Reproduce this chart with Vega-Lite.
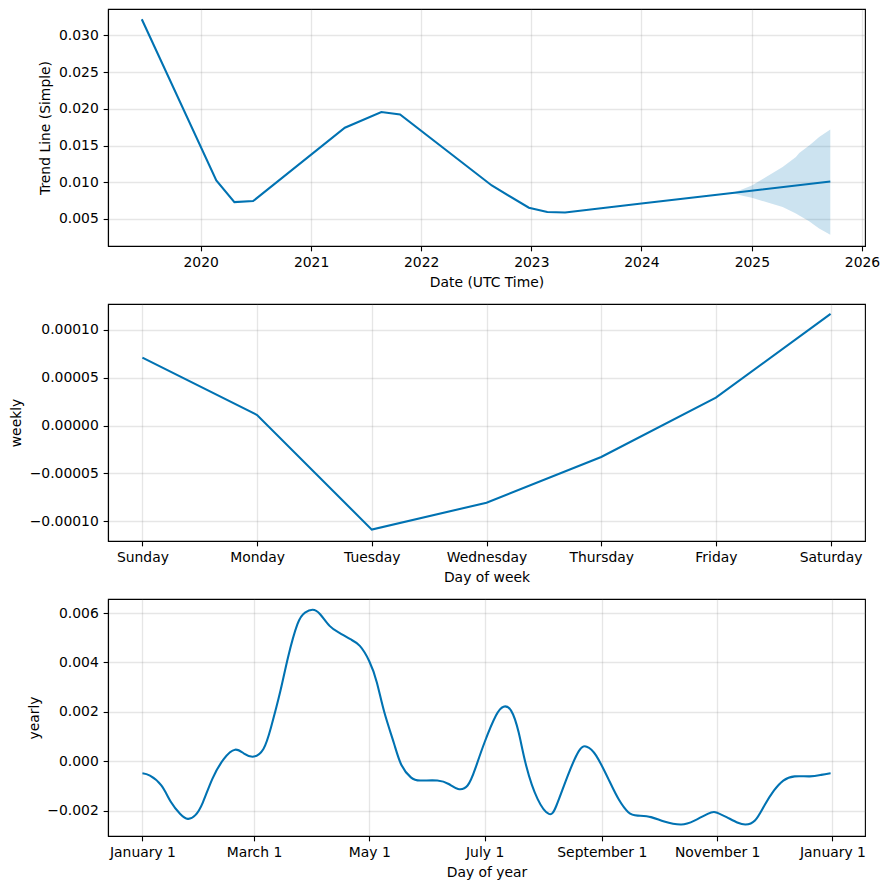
{
  "$schema": "https://vega.github.io/schema/vega-lite/v6.json",
  "padding": {"left": 9, "top": 8, "right": 5, "bottom": 5},
  "bounds": "flush",
  "spacing": 58,
  "datasets": {
    "trend": [
      {"ds": "2019-06-20T00:00", "trend": 0.0322},
      {"ds": "2020-02-22T00:00", "trend": 0.01025},
      {"ds": "2020-04-22T00:00", "trend": 0.0073},
      {"ds": "2020-06-23T00:00", "trend": 0.00744},
      {"ds": "2021-04-23T00:00", "trend": 0.01743},
      {"ds": "2021-08-22T00:00", "trend": 0.01956},
      {"ds": "2021-10-23T00:00", "trend": 0.01924},
      {"ds": "2022-08-23T00:00", "trend": 0.00956},
      {"ds": "2022-12-24T00:00", "trend": 0.00653},
      {"ds": "2023-02-23T00:00", "trend": 0.00594},
      {"ds": "2023-04-23T00:00", "trend": 0.00589},
      {"ds": "2024-01-01T00:00", "trend": 0.00711},
      {"ds": "2024-10-28T00:00", "trend": 0.00853},
      {"ds": "2025-09-18T00:00", "trend": 0.01011}
    ],
    "band": [
      {"ds": "2024-10-28T00:00", "lower": 0.00853, "upper": 0.00853},
      {"ds": "2024-12-01T00:00", "lower": 0.00816, "upper": 0.00905},
      {"ds": "2025-01-01T00:00", "lower": 0.00789, "upper": 0.00956},
      {"ds": "2025-02-17T00:00", "lower": 0.0073, "upper": 0.01071},
      {"ds": "2025-04-13T00:00", "lower": 0.00662, "upper": 0.01207},
      {"ds": "2025-05-27T00:00", "lower": 0.00575, "upper": 0.01343},
      {"ds": "2025-06-07T00:00", "lower": 0.00548, "upper": 0.0140},
      {"ds": "2025-07-10T00:00", "lower": 0.0047, "upper": 0.0150},
      {"ds": "2025-07-21T00:00", "lower": 0.00435, "upper": 0.0154},
      {"ds": "2025-08-12T00:00", "lower": 0.0037, "upper": 0.01616},
      {"ds": "2025-09-18T00:00", "lower": 0.00285, "upper": 0.0172}
    ],
    "weekly": [
      {"day": "Sunday", "weekly": 0.000071},
      {"day": "Monday", "weekly": 0.000011},
      {"day": "Tuesday", "weekly": -0.000109},
      {"day": "Wednesday", "weekly": -0.0000808},
      {"day": "Thursday", "weekly": -0.000033},
      {"day": "Friday", "weekly": 0.0000291},
      {"day": "Saturday", "weekly": 0.0001168}
    ],
    "yearly": [
      {"ds": "2017-01-01T00:00", "yearly": -0.000485},
      {"ds": "2017-01-05T00:00", "yearly": -0.00058},
      {"ds": "2017-01-11T00:00", "yearly": -0.00098},
      {"ds": "2017-01-16T00:00", "yearly": -0.00164},
      {"ds": "2017-01-21T00:00", "yearly": -0.00213},
      {"ds": "2017-01-25T00:00", "yearly": -0.00233},
      {"ds": "2017-01-29T00:00", "yearly": -0.00218},
      {"ds": "2017-02-02T00:00", "yearly": -0.00166},
      {"ds": "2017-02-07T00:00", "yearly": -0.00071},
      {"ds": "2017-02-13T00:00", "yearly": 0.00009},
      {"ds": "2017-02-19T00:00", "yearly": 0.00047},
      {"ds": "2017-02-24T00:00", "yearly": 0.0003},
      {"ds": "2017-03-01T00:00", "yearly": 0.00019},
      {"ds": "2017-03-06T00:00", "yearly": 0.0005},
      {"ds": "2017-03-10T00:00", "yearly": 0.00137},
      {"ds": "2017-03-15T00:00", "yearly": 0.00285},
      {"ds": "2017-03-19T00:00", "yearly": 0.0042},
      {"ds": "2017-03-24T00:00", "yearly": 0.00555},
      {"ds": "2017-03-28T00:00", "yearly": 0.00602},
      {"ds": "2017-04-01T00:00", "yearly": 0.00613},
      {"ds": "2017-04-05T00:00", "yearly": 0.00595},
      {"ds": "2017-04-10T00:00", "yearly": 0.00548},
      {"ds": "2017-04-15T00:00", "yearly": 0.00521},
      {"ds": "2017-04-21T00:00", "yearly": 0.00494},
      {"ds": "2017-04-26T00:00", "yearly": 0.00467},
      {"ds": "2017-05-01T00:00", "yearly": 0.00405},
      {"ds": "2017-05-05T00:00", "yearly": 0.00319},
      {"ds": "2017-05-09T00:00", "yearly": 0.00197},
      {"ds": "2017-05-14T00:00", "yearly": 0.00074},
      {"ds": "2017-05-18T00:00", "yearly": -0.00015},
      {"ds": "2017-05-23T00:00", "yearly": -0.00065},
      {"ds": "2017-05-28T00:00", "yearly": -0.00078},
      {"ds": "2017-06-06T00:00", "yearly": -0.00078},
      {"ds": "2017-06-12T00:00", "yearly": -0.00092},
      {"ds": "2017-06-17T00:00", "yearly": -0.00112},
      {"ds": "2017-06-22T00:00", "yearly": -0.00098},
      {"ds": "2017-06-26T00:00", "yearly": -0.00031},
      {"ds": "2017-07-01T00:00", "yearly": 0.00077},
      {"ds": "2017-07-07T00:00", "yearly": 0.00185},
      {"ds": "2017-07-11T00:00", "yearly": 0.00221},
      {"ds": "2017-07-15T00:00", "yearly": 0.00205},
      {"ds": "2017-07-19T00:00", "yearly": 0.00117},
      {"ds": "2017-07-23T00:00", "yearly": -0.00018},
      {"ds": "2017-07-29T00:00", "yearly": -0.00152},
      {"ds": "2017-08-04T00:00", "yearly": -0.00213},
      {"ds": "2017-08-08T00:00", "yearly": -0.00179},
      {"ds": "2017-08-14T00:00", "yearly": -0.00058},
      {"ds": "2017-08-20T00:00", "yearly": 0.00043},
      {"ds": "2017-08-24T00:00", "yearly": 0.00059},
      {"ds": "2017-08-29T00:00", "yearly": 0.00023},
      {"ds": "2017-09-05T00:00", "yearly": -0.0008},
      {"ds": "2017-09-10T00:00", "yearly": -0.00155},
      {"ds": "2017-09-15T00:00", "yearly": -0.00206},
      {"ds": "2017-09-20T00:00", "yearly": -0.0022},
      {"ds": "2017-09-27T00:00", "yearly": -0.00226},
      {"ds": "2017-10-04T00:00", "yearly": -0.00244},
      {"ds": "2017-10-13T00:00", "yearly": -0.00256},
      {"ds": "2017-10-20T00:00", "yearly": -0.0024},
      {"ds": "2017-10-27T00:00", "yearly": -0.00213},
      {"ds": "2017-10-31T00:00", "yearly": -0.00206},
      {"ds": "2017-11-06T00:00", "yearly": -0.00226},
      {"ds": "2017-11-12T00:00", "yearly": -0.00249},
      {"ds": "2017-11-16T00:00", "yearly": -0.00256},
      {"ds": "2017-11-21T00:00", "yearly": -0.0024},
      {"ds": "2017-11-26T00:00", "yearly": -0.00179},
      {"ds": "2017-12-01T00:00", "yearly": -0.00119},
      {"ds": "2017-12-06T00:00", "yearly": -0.00078},
      {"ds": "2017-12-12T00:00", "yearly": -0.00061},
      {"ds": "2017-12-20T00:00", "yearly": -0.00061},
      {"ds": "2017-12-26T00:00", "yearly": -0.00055},
      {"ds": "2017-12-31T00:00", "yearly": -0.00048}
    ]
  },
  "vconcat": [
    {
      "width": 757,
      "height": 237,
      "layer": [
        {
          "data": {"name": "band"},
          "mark": {"type": "area", "color": "#0072B2", "opacity": 0.2},
          "encoding": {
            "x": {"field": "ds", "type": "temporal",
              "scale": {"domain": [{"year": 2019, "month": 2, "date": 28}, {"year": 2026, "month": 1, "date": 11}]},
              "axis": {"title": "Date (UTC Time)", "format": "%Y",
                "values": [{"year": 2020, "month": 1, "date": 1}, {"year": 2021, "month": 1, "date": 1}, {"year": 2022, "month": 1, "date": 1}, {"year": 2023, "month": 1, "date": 1}, {"year": 2024, "month": 1, "date": 1}, {"year": 2025, "month": 1, "date": 1}, {"year": 2026, "month": 1, "date": 1}]}},
            "y": {"field": "lower", "type": "quantitative",
              "scale": {"domain": [0.00132, 0.0336], "nice": false, "zero": false},
              "axis": {"title": "Trend Line (Simple)", "format": ".3f", "values": [0.005, 0.01, 0.015, 0.02, 0.025, 0.03]}},
            "y2": {"field": "upper"}
          }
        },
        {
          "data": {"name": "trend"},
          "mark": {"type": "line", "color": "#0072B2", "strokeWidth": 2.08},
          "encoding": {
            "x": {"field": "ds", "type": "temporal"},
            "y": {"field": "trend", "type": "quantitative"}
          }
        }
      ]
    },
    {
      "width": 757,
      "height": 237,
      "data": {"name": "weekly"},
      "mark": {"type": "line", "color": "#0072B2", "strokeWidth": 2.08},
      "encoding": {
        "x": {"field": "day", "type": "ordinal",
          "scale": {"type": "point", "padding": 0.3, "domain": ["Sunday", "Monday", "Tuesday", "Wednesday", "Thursday", "Friday", "Saturday"]},
          "axis": {"title": "Day of week", "labelAngle": 0}},
        "y": {"field": "weekly", "type": "quantitative",
          "scale": {"domain": [-0.0001209, 0.0001272], "nice": false, "zero": false},
          "axis": {"title": "weekly", "format": ".5f", "values": [-0.0001, -0.00005, 0, 0.00005, 0.0001]}}
      }
    },
    {
      "width": 757,
      "height": 237,
      "data": {"name": "yearly"},
      "mark": {"type": "line", "color": "#0072B2", "strokeWidth": 2.08, "interpolate": "natural"},
      "encoding": {
        "x": {"field": "ds", "type": "temporal",
          "scale": {"domain": [{"year": 2016, "month": 12, "date": 13, "hours": 19}, {"year": 2018, "month": 1, "date": 18, "hours": 5}]},
          "axis": {"title": "Day of year", "format": "%B %-d",
            "values": [{"year": 2017, "month": 1, "date": 1}, {"year": 2017, "month": 3, "date": 1}, {"year": 2017, "month": 5, "date": 1}, {"year": 2017, "month": 7, "date": 1}, {"year": 2017, "month": 9, "date": 1}, {"year": 2017, "month": 11, "date": 1}, {"year": 2018, "month": 1, "date": 1}]}},
        "y": {"field": "yearly", "type": "quantitative",
          "scale": {"domain": [-0.003024, 0.006567], "nice": false, "zero": false},
          "axis": {"title": "yearly", "format": ".3f", "values": [-0.002, 0, 0.002, 0.004, 0.006]}}
      }
    }
  ],
  "config": {
    "font": "DejaVu Sans",
    "view": {"stroke": "black", "strokeWidth": 1.11},
    "axis": {
      "labelFont": "DejaVu Sans",
      "labelFontSize": 13.9,
      "labelColor": "black",
      "titleFont": "DejaVu Sans",
      "titleFontSize": 13.9,
      "titleFontWeight": "normal",
      "titleColor": "black",
      "tickColor": "black",
      "tickSize": 4.86,
      "tickWidth": 1.11,
      "labelPadding": 4.86,
      "titlePadding": 5.56,
      "domainColor": "black",
      "domainWidth": 1.11,
      "grid": true,
      "gridColor": "#808080",
      "gridOpacity": 0.2,
      "gridWidth": 1.39,
      "labelOverlap": false,
      "labelFlush": false
    }
  }
}
